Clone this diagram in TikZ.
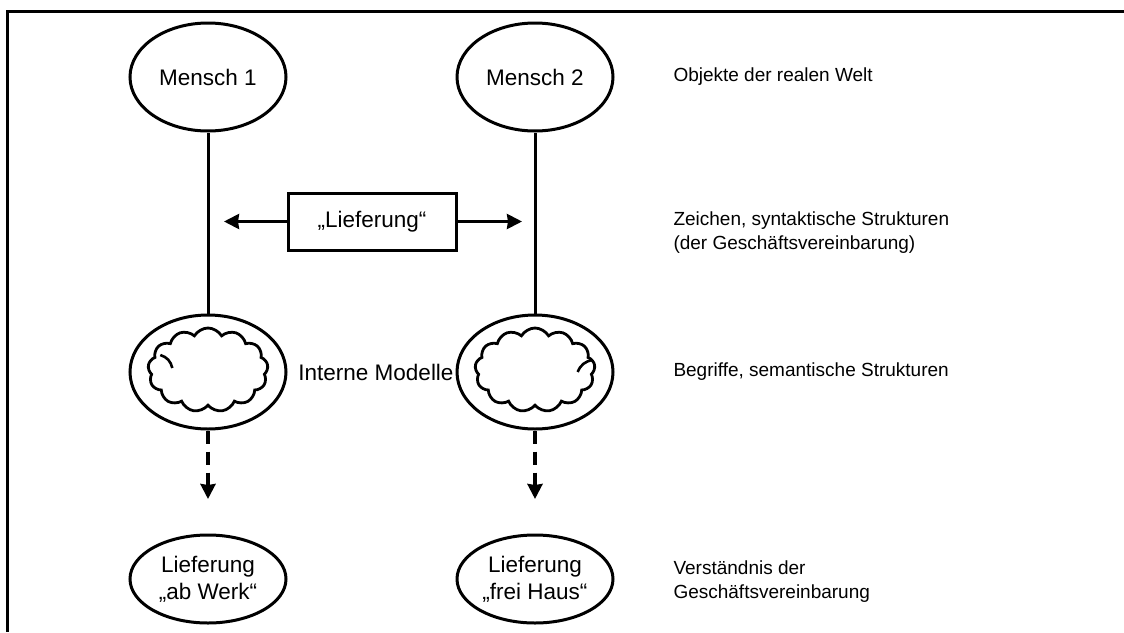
\documentclass[tikz,border=0pt]{standalone}
\usepackage{fontspec}
\setmainfont{Liberation Sans}
\usetikzlibrary{shapes.geometric,shapes.symbols,arrows.meta}

\begin{document}
\begin{tikzpicture}[x=1pt,y=-1pt,>={Stealth[length=15pt,width=15pt,inset=1pt]},line width=3pt,
	every node/.style={font=\fontsize{22.5}{27}\selectfont},
	oval/.style={ellipse,draw,line width=3pt,inner sep=0pt,minimum width=156pt},
	term/.style={draw,line width=3pt,minimum width=168pt,minimum height=57pt},
	thought/.style={cloud,draw,line width=2.8pt,cloud puffs=13,cloud puff arc=120,aspect=1.45,inner sep=0pt,minimum width=120pt,minimum height=84pt},
	level/.style={anchor=west,align=left,inner xsep=0pt,font=\fontsize{19}{24}\selectfont}]

\useasboundingbox (0,0) rectangle (1124,632);

%Frame, only the top and the left edge are visible
	\draw (1124,11) -- (7,11) -- (7,632);

%The foreach command runs over both persons: x position, number and understanding
	\foreach \x/\n/\txt in {208/1/{Lieferung\\„ab Werk“},535/2/{Lieferung\\„frei Haus“}}
		{

%Person, internal model with cloud, understanding
		\node[oval,minimum height=108pt] (m\n) at (\x,77) {Mensch \n};
		\node[oval,minimum height=114pt] (im\n) at (\x,372) {};
		\node[thought] (cl\n) at (\x,370) {};
		\node[oval,minimum height=88pt,align=center] (v\n) at (\x,579) {\txt};
		\coordinate (tip\n) at (\x,499);

%Solid line from person to model, dashed arrow from model towards understanding
		\draw (m\n) -- (im\n);
		\draw[->,dash pattern=on 13pt off 8pt,line width=3.4pt] (im\n) -- (tip\n);
	}

%Small curls of the cloud outlines
	\draw[line width=2.6pt] ([shift={(13,-15)}]cl1.west) to[bend left=30] ([shift={(25,-2)}]cl1.west);
	\draw[line width=2.6pt] ([shift={(-3,-10)}]cl2.east) to[bend right=30] ([shift={(-18,2)}]cl2.east);

%The sign in the middle with arrows to both persons
	\node[term] (lf) at (372,221.5) {„Lieferung“};
	\coordinate (a1) at (224,221.5);
	\coordinate (a2) at (522,221.5);
	\draw[->] (lf.west) -- (a1);
	\draw[->] (lf.east) -- (a2);

	\node[inner sep=0pt] (intern) at (376,372) {Interne Modelle};

%Levels on the right
	\node[level] (welt) at (672,77) {Objekte der realen Welt};
	\node[level] (zeichen) at (672,233) {Zeichen, syntaktische Strukturen\\(der Geschäftsvereinbarung)};
	\node[level] (begriffe) at (672,372) {Begriffe, semantische Strukturen};
	\node[level] (verst) at (672,582) {Verständnis der\\Geschäftsvereinbarung};

\end{tikzpicture}
\end{document}
